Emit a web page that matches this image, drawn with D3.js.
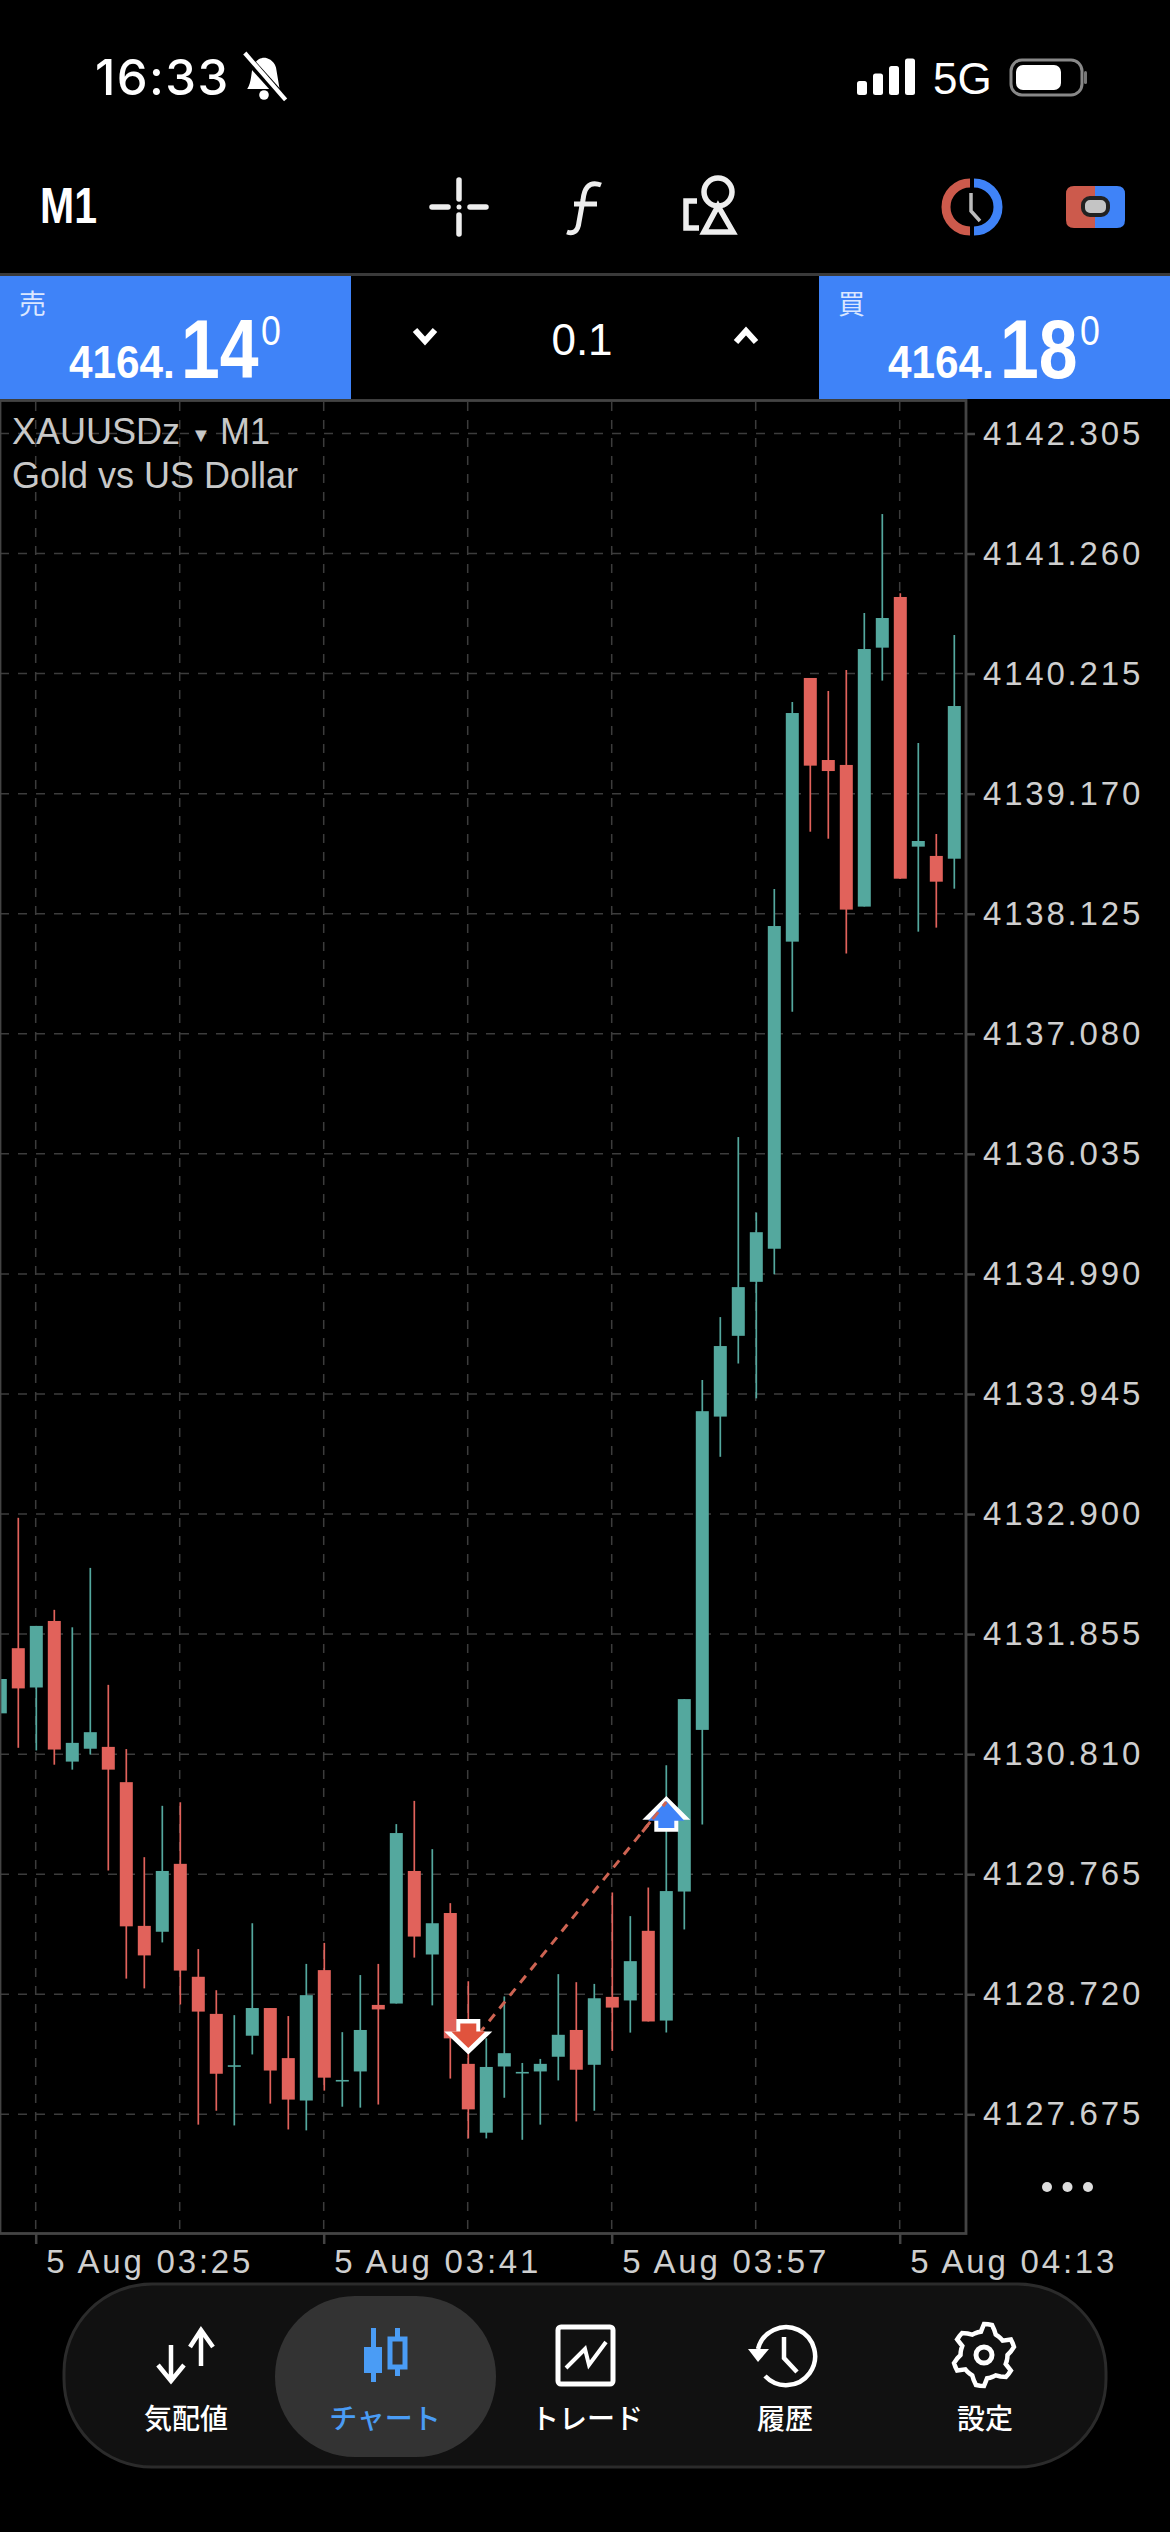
<!DOCTYPE html>
<html>
<head>
<meta charset="utf-8">
<script src="https://cdn.jsdelivr.net/npm/d3@7"></script>
<style>
html, body { margin: 0; padding: 0; background: #000; }
svg { display: block; }
text { font-family: "Liberation Sans", Roboto, sans-serif; }
.axis text { font-family: "Liberation Sans", sans-serif; font-size: 33px; fill: #cfcfcf; letter-spacing: 2.8px; }
.axis line { stroke: #444; stroke-width: 2.5; }
.grid line { stroke: #3c3c3c; stroke-width: 1.5; stroke-dasharray: 9 9; }
.jp { font-family: "Noto Sans CJK JP", sans-serif; }
</style>
</head>
<body>
<svg id="drawing_region" width="1170" height="2532"></svg>
<script>
// candles, one per minute from 03:23
const opens = [4131.165,4131.732,4131.390,4131.969,4130.745,4130.857,4130.873,4130.566,4129.315,4129.264,4129.855,4128.872,4128.549,4128.091,4128.359,4128.600,4128.164,4127.795,4128.930,4127.966,4128.048,4128.627,4128.639,4129.793,4129.066,4129.427,4128.114,4127.515,4128.091,4128.032,4128.048,4128.176,4128.409,4128.106,4128.697,4128.666,4129.272,4128.491,4129.614,4131.021,4133.748,4134.451,4134.921,4135.209,4137.882,4140.177,4139.463,4139.420,4138.187,4140.441,4140.882,4138.709,4138.628,4138.604];
const highs = [4131.464,4132.867,4131.926,4132.066,4131.914,4132.431,4131.413,4130.854,4129.913,4130.360,4130.391,4129.113,4128.755,4128.538,4129.338,4128.600,4128.530,4128.984,4129.167,4128.390,4128.887,4128.984,4130.201,4130.403,4129.983,4129.513,4128.833,4128.336,4128.701,4128.122,4128.157,4128.895,4128.825,4128.810,4129.606,4129.400,4129.649,4130.714,4131.289,4134.067,4134.614,4136.181,4135.524,4138.340,4139.968,4140.177,4140.064,4140.246,4140.743,4141.604,4140.914,4139.611,4138.819,4140.551];
const lows = [4131.165,4130.865,4130.842,4130.718,4130.675,4130.807,4129.797,4128.856,4128.771,4129.171,4128.631,4127.585,4127.706,4127.578,4128.196,4127.768,4127.543,4127.535,4127.881,4127.741,4127.733,4127.760,4128.639,4129.039,4128.623,4127.986,4127.465,4127.465,4127.819,4127.453,4127.585,4127.970,4127.613,4127.706,4128.227,4128.386,4128.483,4128.386,4129.284,4130.197,4133.398,4134.210,4133.907,4134.988,4137.272,4138.839,4138.778,4137.778,4138.187,4140.154,4138.430,4137.969,4138.004,4138.343];
const closes = [4131.464,4131.382,4131.926,4130.850,4130.908,4131.001,4130.675,4129.311,4129.058,4129.793,4128.926,4128.569,4128.028,4128.102,4128.600,4128.056,4127.803,4128.712,4127.994,4127.974,4128.409,4128.588,4130.123,4129.222,4129.338,4128.336,4127.718,4128.087,4128.207,4128.044,4128.114,4128.367,4128.063,4128.685,4128.604,4129.008,4128.483,4129.618,4131.289,4133.795,4134.362,4134.875,4135.353,4138.018,4139.872,4139.414,4139.367,4138.161,4140.429,4140.699,4138.430,4138.758,4138.404,4139.933];

const priceTicks = [4142.305,4141.260,4140.215,4139.170,4138.125,4137.080,4136.035,4134.990,4133.945,4132.900,4131.855,4130.810,4129.765,4128.720,4127.675];
const labelTimes = ['03:25','03:41','03:57','04:13'];
const gridTimes = ['03:25','03:33','03:41','03:49','03:57','04:05','04:13'];

// the sell and the buy deal, joined by the dashed line
const tradeTimes = ['03:49','04:00'];
const tradePrices = [4128.261,4130.393];

const navLabels = ['気配値','チャート','トレード','履歴','設定'];

const teal = '#54a89e', red = '#e1625b', blue = '#3f83f8', navBlue = '#4a9cf5';

const parseTime = s => d3.utcParse('%Y-%m-%d %H:%M')('2025-08-05 ' + s);
const firstTime = parseTime('03:23');
const candles = opens.map((o, i) => ({
    t: d3.utcMinute.offset(firstTime, i), o, h: highs[i], l: lows[i], c: closes[i]
}));

const svg = d3.select('#drawing_region');

const plot = {left: 1, right: 966, top: 402, bottom: 2233};

const xscale = d3.scaleUtc()
    .domain([firstTime, d3.utcMinute.offset(firstTime, 53)])
    .range([-0.3, 953.7]);

const yscale = d3.scaleLinear()
    .domain([4127.675, 4142.305])
    .range([2114.3, 433.5]);

// grid
const grid = svg.append('g').attr('class', 'grid');
grid.selectAll('.h').data(priceTicks).join('line')
    .attr('class', 'h')
    .attr('x1', 0).attr('x2', plot.right)
    .attr('y1', d => yscale(d)).attr('y2', d => yscale(d));
grid.selectAll('.v').data(gridTimes).join('line')
    .attr('class', 'v')
    .attr('x1', d => xscale(parseTime(d))).attr('x2', d => xscale(parseTime(d)))
    .attr('y1', plot.top).attr('y2', plot.bottom);

// candles
const candle_g = svg.append('g').attr('transform', 'translate(0.6,0)');
const bar = candle_g.selectAll('g').data(candles).join('g')
    .attr('fill', d => d.c >= d.o ? teal : red)
    .attr('stroke', d => d.c >= d.o ? teal : red);
bar.append('line')
    .attr('x1', d => xscale(d.t)).attr('x2', d => xscale(d.t))
    .attr('y1', d => yscale(d.h)).attr('y2', d => yscale(d.l))
    .attr('stroke-width', 1.7);
bar.append('rect')
    .attr('stroke', 'none')
    .attr('x', d => xscale(d.t) - 6.5)
    .attr('width', 13)
    .attr('y', d => yscale(Math.max(d.o, d.c)))
    .attr('height', d => Math.max(1.6, yscale(Math.min(d.o, d.c)) - yscale(Math.max(d.o, d.c))));

// trades
const tx = tradeTimes.map(s => xscale(parseTime(s)) + 0.6);
const ty = tradePrices.map(d => yscale(d));

svg.append('line')
    .attr('x1', tx[0]).attr('y1', ty[0]).attr('x2', tx[1]).attr('y2', ty[1])
    .attr('stroke', '#cd6352').attr('stroke-width', 3).attr('stroke-dasharray', '9 7.5');
svg.append('path')
    .attr('d', 'M-24,-23 L-12,-23 L-12,-35.5 L12,-35.5 L12,-23 L24,-23 L0,0 Z')
    .attr('fill', '#fff')
    .attr('transform', `translate(${tx[0]},${ty[0] + 7.6})`);
svg.append('path')
    .attr('d', 'M-17,-23 L-8,-23 L-8,-31 L8,-31 L8,-23 L17,-23 L0,-6.5 Z')
    .attr('fill', '#e0533d')
    .attr('transform', `translate(${tx[0]},${ty[0] + 7.6})`);
svg.append('path')
    .attr('d', 'M-24,23.6 L-12,23.6 L-12,35.6 L12,35.6 L12,23.6 L24,23.6 L0,0 Z')
    .attr('fill', '#fff')
    .attr('transform', `translate(${tx[1]},${ty[1] - 6})`);
svg.append('path')
    .attr('d', 'M-18,24.6 L-8,24.6 L-8,32 L8,32 L8,24.6 L18,24.6 L0,5 Z')
    .attr('fill', blue)
    .attr('transform', `translate(${tx[1]},${ty[1] - 6})`);
// the line runs over the buy arrow's head, but stops short of the sell arrow
svg.append('line')
    .attr('x1', tx[1] - 24).attr('y1', ty[1] + 30).attr('x2', tx[1]).attr('y2', ty[1])
    .attr('stroke', '#cd6352').attr('stroke-width', 3).attr('stroke-dasharray', '9 7.5');

// frame and axes
svg.append('rect')
    .attr('x', plot.left - 1).attr('y', plot.top - 1.5)
    .attr('width', plot.right - plot.left + 1).attr('height', plot.bottom - plot.top + 2)
    .attr('fill', 'none').attr('stroke', '#444').attr('stroke-width', 2.8);

const yaxis = d3.axisRight(yscale)
    .tickValues(priceTicks)
    .tickFormat(d3.format('.3f'))
    .tickSize(9)
    .tickPadding(8);
const yaxis_group = svg.append('g')
    .attr('class', 'axis')
    .attr('transform', `translate(${plot.right},0)`)
    .call(yaxis);
yaxis_group.select('.domain').remove();

const xaxis = d3.axisBottom(xscale)
    .tickValues(labelTimes.map(parseTime))
    .tickFormat(d3.utcFormat('%-d %b %H:%M'))
    .tickSize(10)
    .tickPadding(6);
const xaxis_group = svg.append('g')
    .attr('class', 'axis')
    .attr('transform', `translate(0,${plot.bottom + 1})`)
    .call(xaxis);
xaxis_group.select('.domain').remove();
xaxis_group.selectAll('text').attr('text-anchor', 'start').attr('x', 10);

// symbol label
const caption = svg.append('g').attr('fill', '#c8c8c8').attr('font-size', 36);
caption.append('text').attr('x', 12).attr('y', 444).text('XAUUSDz');
caption.append('text').attr('x', 191).attr('y', 442).attr('font-size', 20).text('▼');
caption.append('text').attr('x', 220).attr('y', 444).text('M1');
caption.append('text').attr('x', 12).attr('y', 488).text('Gold vs US Dollar');

svg.append('g').attr('fill', '#ddd')
    .selectAll('circle').data([1047, 1067.5, 1088]).join('circle')
    .attr('cx', d => d).attr('cy', 2187).attr('r', 5);

// status bar
svg.append('text').attr('x', 95).attr('y', 95).attr('fill', '#fff')
    .style('font-family', 'Inter').style('letter-spacing', '1.4px')
    .attr('font-size', 49).attr('font-weight', 500).text('16:33');
const bell = svg.append('g').attr('transform', 'translate(264,77) scale(1.2)').attr('fill', '#fff');
bell.append('path').attr('d', 'M-14,10 C-10,4 -11,-4 -9,-9 C-7,-14 -3,-16 0,-16 C3,-16 8,-14 10,-8 L13,10 Z');
bell.append('circle').attr('cx', 0).attr('cy', 15).attr('r', 4);
bell.append('line').attr('x1', -18).attr('y1', -20).attr('x2', 18).attr('y2', 20)
    .attr('stroke', '#000').attr('stroke-width', 7);
bell.append('line').attr('x1', -16).attr('y1', -20).attr('x2', 18).attr('y2', 19)
    .attr('stroke', '#fff').attr('stroke-width', 3.5);

svg.append('g').attr('fill', '#fff')
    .selectAll('rect').data([0, 1, 2, 3]).join('rect')
    .attr('x', d => 857 + d * 16).attr('width', 10).attr('rx', 2.5)
    .attr('y', d => 81 - d * 7.5).attr('height', d => 14 + d * 7.5);
svg.append('text').attr('x', 933).attr('y', 94).attr('fill', '#fff')
    .attr('font-size', 44).text('5G');
svg.append('rect').attr('x', 1011).attr('y', 60).attr('width', 71).attr('height', 35).attr('rx', 11)
    .attr('fill', 'none').attr('stroke', '#888').attr('stroke-width', 3);
svg.append('rect').attr('x', 1016).attr('y', 65).attr('width', 45).attr('height', 25).attr('rx', 7).attr('fill', '#fff');
svg.append('rect').attr('x', 1084).attr('y', 71).attr('width', 3).attr('height', 13).attr('rx', 1.5).attr('fill', '#777');

// toolbar
svg.append('text').attr('transform', 'translate(40,223) scale(0.82,1)').attr('fill', '#fff')
    .attr('font-size', 50).attr('font-weight', 700).text('M1');
const cross = svg.append('g').attr('transform', 'translate(459,207)').attr('stroke', '#eee')
    .attr('stroke-width', 5.5).attr('stroke-linecap', 'round');
cross.selectAll('line').data([[-27,0,-11,0],[11,0,27,0],[0,-27,0,-8],[0,8,0,27]]).join('line')
    .attr('x1', d => d[0]).attr('y1', d => d[1]).attr('x2', d => d[2]).attr('y2', d => d[3]);
cross.append('circle').attr('r', 2.5).attr('fill', '#eee').attr('stroke', 'none');
svg.append('path').attr('d', 'M601,185 C588,180 584,190 583,200 L579,222 C578,232 573,234 567,232 M574,204 L597,204')
    .attr('fill', 'none').attr('stroke', '#eee').attr('stroke-width', 5);
const shapes = svg.append('g').attr('fill', 'none').attr('stroke', '#eee').attr('stroke-width', 5.5);
shapes.append('circle').attr('cx', 718).attr('cy', 192).attr('r', 14);
shapes.append('path').attr('d', 'M718,206 L704,232 L733,232 Z');
shapes.append('path').attr('d', 'M697,201 L686,201 L686,228 L699,228');
const clock = svg.append('g').attr('transform', 'translate(972,207)').attr('fill', 'none').attr('stroke-width', 9);
clock.append('path').attr('d', 'M-2,-24 A24,24 0 0 0 -2,24').attr('stroke', '#cc5a4c');
clock.append('path').attr('d', 'M2,-24 A24,24 0 0 1 2,24').attr('stroke', '#3f83f8');
clock.append('path').attr('d', 'M-1,-14 L-1,4 L8,14').attr('stroke', '#bbb').attr('stroke-width', 3.5);
svg.append('path').attr('d', 'M1074,186 L1095,186 L1095,228 L1074,228 Q1066,228 1066,220 L1066,194 Q1066,186 1074,186 Z').attr('fill', '#cc5a4c');
svg.append('path').attr('d', 'M1095,186 L1117,186 Q1125,186 1125,194 L1125,220 Q1125,228 1117,228 L1095,228 Z').attr('fill', '#3f83f8');
svg.append('rect').attr('x', 1083).attr('y', 198).attr('width', 25).attr('height', 17).attr('rx', 7)
    .attr('fill', '#c4c4c4').attr('stroke', '#222').attr('stroke-width', 4);

// quote bar
svg.append('rect').attr('x', 0).attr('y', 273).attr('width', 1170).attr('height', 3).attr('fill', '#3a3a3a');
svg.append('rect').attr('x', 0).attr('y', 276).attr('width', 351).attr('height', 123).attr('fill', blue);
svg.append('rect').attr('x', 819).attr('y', 276).attr('width', 351).attr('height', 123).attr('fill', blue);

function quote(x0, side, big) {
    const g = svg.append('g').attr('fill', '#fff');
    g.append('text').attr('class', 'jp').attr('x', x0 + 19).attr('y', 314)
        .attr('font-size', 27).attr('fill', '#dbe7ff').text(side);
    g.append('text').attr('transform', `translate(${x0 + 69},378) scale(0.9,1)`)
        .attr('font-size', 47).attr('font-weight', 700).text('4164.');
    g.append('text').attr('transform', `translate(${x0 + 181},378) scale(0.83,1)`)
        .attr('font-size', 84).attr('font-weight', 700).text(big);
    g.append('text').attr('transform', `translate(${x0 + 261},345) scale(0.85,1)`)
        .attr('font-size', 42).text('0');
}
quote(0, '売', '14');
quote(819, '買', '18');

const chevrons = svg.append('g').attr('fill', 'none').attr('stroke', '#fff').attr('stroke-width', 6);
chevrons.append('path').attr('d', 'M415,330 L425,341 L435,330');
chevrons.append('path').attr('d', 'M736,342 L746,331 L756,342');
svg.append('text').attr('x', 582).attr('y', 355).attr('text-anchor', 'middle').attr('fill', '#fff')
    .attr('font-size', 44).text('0.1');

// bottom tabs
svg.append('rect').attr('x', 64).attr('y', 2284).attr('width', 1042).attr('height', 183).attr('rx', 88)
    .attr('fill', '#111').attr('stroke', '#2b2b2b').attr('stroke-width', 3);
svg.append('rect').attr('x', 275).attr('y', 2296).attr('width', 221).attr('height', 161).attr('rx', 80)
    .attr('fill', '#333');

const navX = [185, 384, 586, 784, 984];
svg.append('g').selectAll('text').data(navLabels).join('text')
    .attr('class', 'jp')
    .attr('x', (d, i) => navX[i] + 1)
    .attr('y', 2429)
    .attr('text-anchor', 'middle')
    .attr('font-size', 28)
    .attr('font-weight', 500)
    .attr('fill', (d, i) => i == 1 ? navBlue : '#fff')
    .text(d => d);

const arrows = svg.append('g').attr('fill', 'none').attr('stroke', '#fff').attr('stroke-width', 4.5);
arrows.append('path').attr('d', 'M171,2345 L171,2380 M158,2365 L171,2381 L184,2365');
arrows.append('path').attr('d', 'M201,2366 L201,2331 M190,2347 L201,2330 L213,2347');

const tabCandles = svg.append('g');
tabCandles.append('rect').attr('x', 371).attr('y', 2328).attr('width', 5).attr('height', 54).attr('fill', navBlue);
tabCandles.append('rect').attr('x', 364).attr('y', 2347).attr('width', 18).attr('height', 26).attr('fill', navBlue);
tabCandles.append('rect').attr('x', 395).attr('y', 2328).attr('width', 5).attr('height', 48).attr('fill', navBlue);
tabCandles.append('rect').attr('x', 390).attr('y', 2339).attr('width', 15).attr('height', 28)
    .attr('fill', '#333').attr('stroke', navBlue).attr('stroke-width', 5);

svg.append('rect').attr('x', 558).attr('y', 2327).attr('width', 55).attr('height', 57).attr('rx', 3)
    .attr('fill', 'none').attr('stroke', '#fff').attr('stroke-width', 5);
svg.append('path').attr('d', 'M566,2368 L585,2349 L589,2365 L606,2342')
    .attr('fill', 'none').attr('stroke', '#fff').attr('stroke-width', 4);

const hist = svg.append('g').attr('transform', 'translate(785,2355)').attr('fill', 'none').attr('stroke', '#fff').attr('stroke-width', 4.5);
hist.append('path').attr('d', 'M-27,-6 A29,29 0 1 1 -20,21');
hist.append('path').attr('d', 'M-1,-18 L-1,3 L12,17');
hist.append('path').attr('d', 'M-37,-6 L-27,7 L-16,-6 Z').attr('fill', '#fff').attr('stroke', 'none');

// gear outline built from its teeth
const teeth = d3.range(48).map(i => {
    const a = i * Math.PI / 24;
    return [a, i % 8 < 3 ? 31 : i % 8 < 4 ? 27 : 23.5];
});
const gear = svg.append('g').attr('transform', 'translate(984,2355)');
gear.append('path')
    .attr('d', d3.lineRadial().curve(d3.curveLinearClosed)(teeth))
    .attr('fill', 'none').attr('stroke', '#fff').attr('stroke-width', 4.5);
gear.append('circle').attr('r', 8).attr('fill', 'none').attr('stroke', '#fff').attr('stroke-width', 5);
</script>
</body>
</html>
